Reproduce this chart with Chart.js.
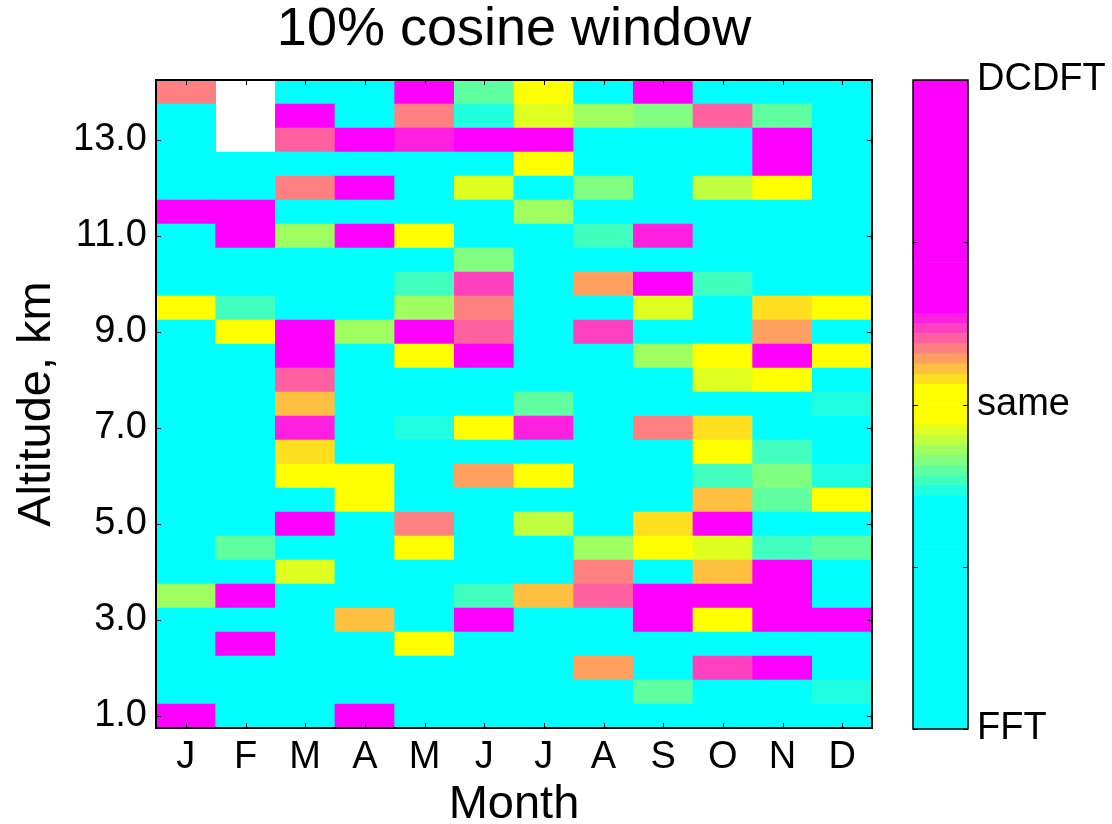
<!DOCTYPE html>
<html>
<head>
<meta charset="utf-8">
<script src="https://cdn.jsdelivr.net/npm/chart.js@4.4.1/dist/chart.umd.min.js"></script>
<style>
  html, body { margin: 0; padding: 0; background: #fff; }
  #wrap { position: relative; width: 1112px; height: 824px; }
  #wrap canvas { position: absolute; left: 0; top: 0; }
</style>
</head>
<body>
<div id="wrap">
  <canvas id="heat" width="1112" height="824"></canvas>
  <canvas id="cbar" width="1112" height="824"></canvas>
</div>
<script>
const monthLabels = ['J', 'F', 'M', 'A', 'M', 'J', 'J', 'A', 'S', 'O', 'N', 'D'];
const altitudes = [1.0, 1.5, 2.0, 2.5, 3.0, 3.5, 4.0, 4.5, 5.0, 5.5, 6.0, 6.5, 7.0, 7.5,
                   8.0, 8.5, 9.0, 9.5, 10.0, 10.5, 11.0, 11.5, 12.0, 12.5, 13.0, 13.5, 14.0];
const yTicks = [1, 3, 5, 7, 9, 11, 13];
const cbarTicks = [-1, -0.5, 0, 0.5, 1];
const cbarNames = { '-1': 'FFT', '0': 'same', '1': 'DCDFT' };

// -1 = FFT better, 0 = same, 1 = DCDFT better; one value per altitude, 1.0 km up to 14.0 km
const jan = [1, -1, -1, -1, -1, -0.14, -1, -1, -1, -1, -1, -1, -1, -1, -1, -1, -1, 0, -1, -1, -1, 1, -1, -1, -1, -1, 0.17];
const feb = [-1, -1, -1, 1, -1, 1, -1, -0.20, -1, -1, -1, -1, -1, -1, -1, -1, 0, -0.23, -1, -1, 1, 1, -1, -1, null, null, null];
const mar = [-1, -1, -1, -1, -1, -1, -0.08, -1, 1, -1, 0, 0.08, 0.27, 0.11, 0.20, 1, 1, -1, -1, -1, -0.14, -1, 0.17, -1, 0.20, 1, -1];
const apr = [1, -1, -1, -1, 0.11, -1, -1, -1, -1, 0, 0, -1, -1, -1, -1, -1, -0.14, -1, -1, -1, 1, -1, 1, -1, 1, -1, -1];
const may = [-1, -1, -1, 0, -1, -1, -1, 0, 0.17, -1, -1, -1, -0.27, -1, -1, 0, 1, -0.14, -0.23, -1, 0, -1, -1, -1, 0.27, 0.17, 1];
const jun = [-1, -1, -1, -1, 1, -0.23, -1, -1, -1, -1, 0.14, -1, 0, -1, -1, 1, 0.20, 0.17, 0.23, -0.17, -1, -1, -0.08, -1, 1, -0.27, -0.20];
const jul = [-1, -1, -1, -1, -1, 0.11, -1, -1, -0.11, -1, 0, -1, 0.27, -0.20, -1, -1, -1, -1, -1, -1, -1, -0.14, -1, 0, 1, -0.08, 0];
const aug = [-1, -1, 0.14, -1, -1, 0.20, 0.17, -0.14, -1, -1, -1, -1, -1, -1, -1, -1, 0.23, -1, 0.14, -1, -0.23, -1, -0.17, -1, -1, -0.14, -1];
const sep = [-1, -0.20, -1, -1, 1, 1, -1, 0, 0.08, -1, -1, -1, 0.17, -1, -1, -0.14, -1, -0.08, 1, -1, 0.27, -1, -1, -1, -1, -0.17, 1];
const oct = [-1, -1, 0.23, -1, 0, 1, 0.11, -0.08, 1, 0.11, -0.23, 0, 0.08, -1, -0.08, 0, -1, -1, -0.23, -1, -1, -1, -0.11, -1, -1, 0.20, -1];
const nov = [-1, -1, 1, -1, 1, 1, 1, -0.23, -1, -0.20, -0.17, -0.23, -1, -1, 0, 1, 0.14, 0.08, -1, -1, -1, -1, 0, 1, 1, -0.20, -1];
const dec = [-1, -0.27, -1, -1, 1, -1, -1, -0.20, -1, 0, -0.27, -1, -1, -0.27, -1, 0, -1, 0, -1, -1, -1, -1, -1, -1, -1, -1, -1];

const months = [jan, feb, mar, apr, may, jun, jul, aug, sep, oct, nov, dec];

// 64-step colormap: cyan -> yellow -> magenta
const toYellow = ['#20FFDF', '#40FFBF', '#60FF9F', '#80FF80', '#9FFF60', '#BFFF40', '#DFFF20'];
const toMagenta = ['#FFDF20', '#FFBF40', '#FF9F60', '#FF8080', '#FF609F', '#FF40BF', '#FF20DF'];
const cmap = [].concat(
  Array(23).fill('#00FFFF'), toYellow, Array(4).fill('#FFFF00'), toMagenta, Array(23).fill('#FF00FF')
);

function colourOf(v) {
  let i = Math.floor((v + 1) / 2 * cmap.length);
  i = Math.max(0, Math.min(cmap.length - 1, i));
  return cmap[i];
}

const FONT = 'Liberation Sans, Arial, Helvetica, sans-serif';
Chart.defaults.font.family = FONT;
Chart.defaults.color = '#000';

// box round the plot with small inward ticks, like the original
const frame = {
  id: 'frame',
  afterDatasetsDraw(chart, args, opts) {
    const { ctx, chartArea: a } = chart;
    const L = 5;
    ctx.save();
    ctx.strokeStyle = '#000';
    ctx.lineWidth = 1;
    ctx.beginPath();
    if (opts.xTicks) {
      const xs = chart.scales.x;
      xs.ticks.forEach((t, i) => {
        const px = Math.round(xs.getPixelForTick(i)) + 0.5;
        ctx.moveTo(px, a.bottom); ctx.lineTo(px, a.bottom - L);
        ctx.moveTo(px, a.top); ctx.lineTo(px, a.top + L);
      });
    }
    const ys = chart.scales.y;
    ys.ticks.forEach(t => {
      const py = Math.round(ys.getPixelForValue(t.value)) + 0.5;
      ctx.moveTo(a.left, py); ctx.lineTo(a.left + L, py);
      ctx.moveTo(a.right, py); ctx.lineTo(a.right - L, py);
    });
    ctx.stroke();
    ctx.lineWidth = opts.width || 2;
    ctx.strokeRect(a.left, a.top, a.right - a.left, a.bottom - a.top);
    ctx.restore();
  }
};

const heatSets = altitudes.map((alt, k) => ({
  label: alt.toFixed(1) + ' km',
  data: months.map(m => m[k] === null ? null : [alt - 0.25, alt + 0.25]),
  backgroundColor: months.map(m => m[k] === null ? '#FFFFFF' : colourOf(m[k])),
  borderWidth: 0,
  grouped: false,
  barPercentage: 1,
  categoryPercentage: 1
}));

new Chart(document.getElementById('heat'), {
  type: 'bar',
  data: { labels: monthLabels, datasets: heatSets },
  plugins: [frame],
  options: {
    responsive: false,
    animation: false,
    layout: { padding: { left: 0, right: 240, top: 0, bottom: 0 } },
    plugins: {
      legend: { display: false },
      tooltip: { enabled: false },
      frame: { xTicks: true, width: 2 },
      title: {
        display: true,
        fullSize: false,
        text: '10% cosine window',
        color: '#000',
        font: { size: 54, weight: 'normal', lineHeight: 1.1 },
        padding: { top: 0, bottom: 20.6 }
      }
    },
    scales: {
      x: {
        grid: { display: false, drawTicks: false },
        border: { display: false },
        ticks: { font: { size: 38 }, padding: 7, maxRotation: 0, autoSkip: false },
        title: { display: true, text: 'Month', font: { size: 47, lineHeight: 1 }, padding: { top: 0, bottom: -5 } },
        afterFit(scale) { scale.height = 96; }
      },
      y: {
        min: 0.75,
        max: 14.25,
        grid: { display: false, drawTicks: false },
        border: { display: false },
        afterBuildTicks(scale) { scale.ticks = yTicks.map(v => ({ value: v })); },
        ticks: { font: { size: 38 }, padding: 9, autoSkip: false, callback: v => v.toFixed(1) },
        title: { display: true, text: 'Altitude, km', font: { size: 47, lineHeight: 1 }, padding: { top: 14 } },
        afterFit(scale) { scale.width = 156; }
      }
    }
  }
});

const cbarSets = cmap.map((c, i) => ({
  data: [[-1 + 2 * i / cmap.length, -1 + 2 * (i + 1) / cmap.length]],
  backgroundColor: c,
  borderWidth: 0,
  grouped: false,
  barPercentage: 1,
  categoryPercentage: 1
}));

new Chart(document.getElementById('cbar'), {
  type: 'bar',
  data: { labels: [''], datasets: cbarSets },
  plugins: [frame],
  options: {
    responsive: false,
    animation: false,
    layout: { padding: { left: 913, right: 0, top: 80, bottom: 95 } },
    plugins: {
      legend: { display: false },
      tooltip: { enabled: false },
      frame: { xTicks: false, width: 1.5 }
    },
    scales: {
      x: { display: false },
      y: {
        position: 'right',
        min: -1,
        max: 1,
        grid: { display: false, drawTicks: false },
        border: { display: false },
        afterBuildTicks(scale) { scale.ticks = cbarTicks.map(v => ({ value: v })); },
        ticks: { font: { size: 38 }, padding: 9, autoSkip: false, callback: v => cbarNames[String(v)] || '' },
        afterFit(scale) { scale.width = 144; }
      }
    }
  }
});
</script>
</body>
</html>
